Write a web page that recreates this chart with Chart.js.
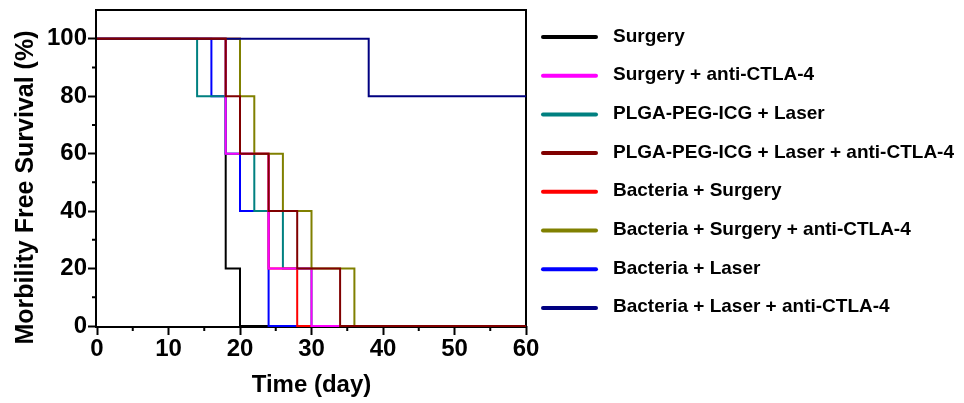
<!DOCTYPE html>
<html>
<head>
<meta charset="utf-8">
<script src="https://cdn.jsdelivr.net/npm/chart.js@4.4.0/dist/chart.umd.min.js"></script>
<style>
  body { margin: 0; background: #fff; }
</style>
</head>
<body>
<canvas id="chartId" width="964" height="403"></canvas>
<script>
// survival steps: day of each event and % left after it
const surgeryDays = [0, 18, 20, 60];
const surgerySurv = [100, 20, 0, 0];
const surgeryAbDays = [0, 18, 24, 30, 60];
const surgeryAbSurv = [100, 60, 20, 0, 0];
const plgaDays = [0, 14, 18, 22, 26, 30, 60];
const plgaSurv = [100, 80, 60, 40, 20, 0, 0];
const plgaAbDays = [0, 18, 20, 24, 28, 34, 60];
const plgaAbSurv = [100, 80, 60, 40, 20, 0, 0];
const bactSurgDays = [0, 20, 24, 28, 60];
const bactSurgSurv = [100, 60, 20, 0, 0];
const bactSurgAbDays = [0, 20, 22, 26, 30, 36, 60];
const bactSurgAbSurv = [100, 80, 60, 40, 20, 0, 0];
const bactLaserDays = [0, 16, 18, 20, 24, 60];
const bactLaserSurv = [100, 80, 60, 40, 0, 0];
const bactLaserAbDays = [0, 38, 60];
const bactLaserAbSurv = [100, 80, 80];

const groupNames = [
  "Surgery",
  "Surgery + anti-CTLA-4",
  "PLGA-PEG-ICG + Laser",
  "PLGA-PEG-ICG + Laser + anti-CTLA-4",
  "Bacteria + Surgery",
  "Bacteria + Surgery + anti-CTLA-4",
  "Bacteria + Laser",
  "Bacteria + Laser + anti-CTLA-4",
];
const groupColors = ["#000000", "#ff00ff", "#008080", "#800000", "#ff0000", "#808000", "#0000ff", "#000080"];
// which curve lies on top where they overlap (lower = on top)
const drawOrder = [7, 3, 5, 0, 4, 2, 6, 1];

const xTicks = [0, 10, 20, 30, 40, 50, 60];
const xMinor = [5, 15, 25, 35, 45, 55];
const yTicks = [0, 20, 40, 60, 80, 100];
const yMinor = [10, 30, 50, 70, 90];

const allDays = [surgeryDays, surgeryAbDays, plgaDays, plgaAbDays, bactSurgDays, bactSurgAbDays, bactLaserDays, bactLaserAbDays];
const allSurv = [surgerySurv, surgeryAbSurv, plgaSurv, plgaAbSurv, bactSurgSurv, bactSurgAbSurv, bactLaserSurv, bactLaserAbSurv];

const FONT = '"Liberation Sans", Arial, sans-serif';

var datasets = [];
for (let i = 0; i < groupNames.length; i++) {
  datasets.push({
    label: groupNames[i],
    data: allDays[i].map((d, j) => ({ x: d, y: allSurv[i][j] })),
    borderColor: groupColors[i],
    backgroundColor: groupColors[i],
    borderWidth: 2,
    pointRadius: 0,
    stepped: true,
    fill: false,
    clip: 2,
    order: drawOrder[i],
  });
}

// frame, minor ticks, y title and the legend on the right
const extras = {
  id: "extras",
  beforeDatasetsDraw(chart) {
    const ctx = chart.ctx;
    const a = chart.chartArea;
    const xs = chart.scales.x;
    const ys = chart.scales.y;
    ctx.save();
    ctx.strokeStyle = "#000";
    ctx.lineWidth = 2;
    // axes sit a pixel outside so curves at 0 stay visible on top of them
    ctx.strokeRect(a.left - 1, a.top, a.right - a.left + 1, a.bottom - a.top + 1);
    ctx.beginPath();
    xMinor.forEach((v) => {
      const px = xs.getPixelForValue(v);
      ctx.moveTo(px, a.bottom);
      ctx.lineTo(px, a.bottom + 5);
    });
    yMinor.forEach((v) => {
      const py = ys.getPixelForValue(v);
      ctx.moveTo(a.left, py);
      ctx.lineTo(a.left - 5, py);
    });
    ctx.stroke();

    // y axis title
    ctx.translate(33, 187.5);
    ctx.rotate(-Math.PI / 2);
    ctx.font = "bold 25px " + FONT;
    ctx.fillStyle = "#000";
    ctx.textAlign = "center";
    ctx.textBaseline = "alphabetic";
    ctx.fillText("Morbility Free Survival (%)", 0, 0);
    ctx.restore();
  },
  afterDraw(chart) {
    const ctx = chart.ctx;
    const x0 = chart.chartArea.right + 17;
    ctx.save();
    ctx.font = "bold 19px " + FONT;
    ctx.textBaseline = "alphabetic";
    ctx.textAlign = "left";
    chart.data.datasets.forEach((ds, i) => {
      const y = 37 + i * 38.7;
      ctx.strokeStyle = ds.borderColor;
      ctx.lineWidth = 4;
      ctx.lineCap = "round";
      ctx.beginPath();
      ctx.moveTo(x0, y);
      ctx.lineTo(x0 + 53, y);
      ctx.stroke();
      ctx.fillStyle = "#000";
      ctx.fillText(ds.label, x0 + 70, y + 4.5);
    });
    ctx.restore();
  },
};

const tickFont = { family: FONT, size: 24, weight: "bold", lineHeight: 1 };

new Chart(document.getElementById("chartId").getContext("2d"), {
  type: "line",
  data: { datasets: datasets },
  options: {
    responsive: false,
    animation: false,
    layout: { padding: { top: 10, right: 438, bottom: 0, left: 0 } },
    plugins: {
      legend: { display: false },
      tooltip: { enabled: false },
    },
    scales: {
      x: {
        type: "linear",
        min: 0,
        max: 60,
        afterBuildTicks: (s) => { s.ticks = xTicks.map((v) => ({ value: v })); },
        ticks: { font: tickFont, color: "#000", padding: 2, maxRotation: 0, autoSkip: false },
        grid: { drawOnChartArea: false, drawTicks: true, tickLength: 9, tickWidth: 2, tickColor: "#000" },
        border: { display: false },
        title: {
          display: true,
          text: "Time (day)",
          color: "#000",
          font: { family: FONT, size: 24, weight: "bold", lineHeight: 1 },
          padding: { top: 0, bottom: 6 },
        },
        afterFit: (s) => { s.height = 77; s.paddingLeft = 0; s.paddingRight = 0; },
      },
      y: {
        type: "linear",
        min: 0,
        max: 110,
        afterBuildTicks: (s) => { s.ticks = yTicks.map((v) => ({ value: v })); },
        ticks: { font: tickFont, color: "#000", padding: 1, autoSkip: false },
        grid: { drawOnChartArea: false, drawTicks: true, tickLength: 9, tickWidth: 2, tickColor: "#000" },
        border: { display: false },
        title: { display: false },
        afterFit: (s) => { s.width = 97; s.paddingTop = 0; s.paddingBottom = 0; },
      },
    },
  },
  plugins: [extras],
});
</script>
</body>
</html>
